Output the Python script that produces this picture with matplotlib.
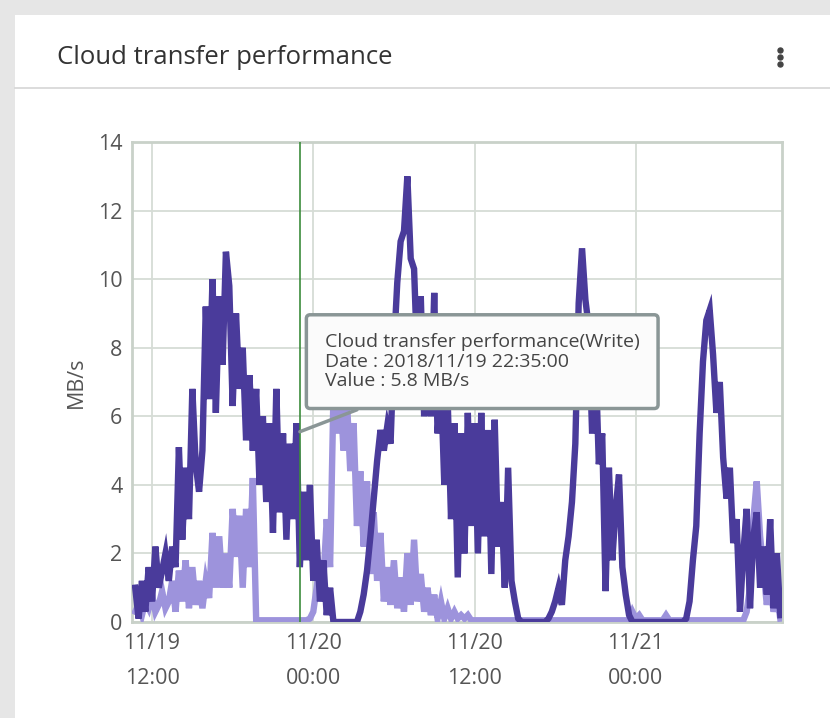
import numpy as np
import matplotlib.pyplot as plt
from matplotlib.lines import Line2D
from matplotlib.patches import Rectangle

# time axis: hours since 2018/11/19 00:00, one sample every 15 minutes
t_start = 10.75
t_step = 0.25

# Cloud transfer performance (Write) - dark series, MB/s
write_vals = [
    1.0, 0.1, 1.2, 0.3,   1.6, 0.6, 2.2, 1.0,   1.5, 2.0, 1.2, 2.2,
    1.6, 5.1, 2.4, 4.5,   3.0, 6.8, 4.6, 3.8,   5.0, 9.2, 6.5, 10.0,
    6.1, 9.5, 7.5, 10.8,  9.8, 6.3, 9.0, 6.8,   8.0, 5.3, 7.2, 5.0,
    6.8, 4.0, 6.0, 3.5,   5.8, 2.6, 6.8, 3.2,   5.5, 2.4, 5.2, 3.0,
    5.8, 1.6, 3.8, 1.8,   4.0, 1.2, 2.4, 0.6,   1.8, 0.2, 1.0, 0.0,
    0.0, 0.0, 0.0, 0.0,   0.0, 0.0, 0.0, 0.3,   0.8, 1.5, 2.5, 3.6,
    4.7, 5.6, 5.0, 5.7,   5.2, 8.0, 9.9, 11.1,  11.4, 13.0, 10.6, 10.3,
    7.5, 9.5, 6.0, 8.5,   6.0, 9.6, 5.5, 7.0,   4.0, 6.5, 3.0, 5.8,
    1.3, 5.5, 2.0, 6.1,   2.8, 5.8, 2.0, 6.1,   2.5, 5.6, 1.4, 5.9,
    2.2, 3.5, 1.0, 4.5,   1.2, 0.6, 0.1, 0.0,   0.0, 0.0, 0.0, 0.0,
    0.0, 0.0, 0.0, 0.1,   0.3, 0.6, 1.0, 0.5,   1.8, 2.5, 3.5, 5.2,
    9.3, 10.9, 9.4, 8.6,  5.5, 7.8, 4.6, 5.5,   0.9, 4.5, 1.8, 3.3,
    4.3, 1.6, 0.8, 0.2,   0.0, 0.0, 0.0, 0.0,   0.0, 0.0, 0.0, 0.0,
    0.0, 0.0, 0.0, 0.0,   0.0, 0.0, 0.0, 0.0,   0.1, 0.6, 1.8, 2.8,
    5.5, 7.6, 8.8, 9.1,   7.8, 6.1, 7.0, 4.8,   3.6, 4.5, 2.3, 3.0,
    0.3, 2.0, 3.3, 0.4,   2.5, 3.2, 1.0, 2.2,   0.8, 3.0, 0.4, 2.0,
    0.2,
]

# second series - light purple, MB/s
read_vals = [
    0.3, 0.5, 0.2, 0.6,   0.4, 0.8, 0.3, 0.5,   0.9, 0.4, 0.6, 1.2,
    0.3, 1.5, 0.6, 1.8,   0.4, 1.6, 0.5, 1.2,   0.4, 1.2, 0.7, 2.6,
    1.0, 2.5, 1.0, 2.0,   1.0, 3.3, 1.9, 3.1,   1.0, 3.3, 1.6, 4.2,
    0.05, 0.05, 0.05, 0.05,  0.05, 0.05, 0.05, 0.05,  0.05, 0.05, 0.05, 0.05,
    0.05, 0.05, 0.05, 0.05,  0.1, 0.3, 1.0, 1.8,  1.2, 3.0, 1.6, 6.6,
    5.5, 6.8, 5.0, 6.5,   4.4, 5.8, 2.8, 4.4,   2.2, 4.1, 1.4, 3.2,
    1.2, 2.6, 0.6, 1.6,   0.5, 1.8, 0.4, 1.3,   0.3, 2.0, 0.5, 2.4,
    0.6, 1.4, 0.3, 1.0,   0.2, 0.8, 0.1, 0.6,   0.1, 0.4, 0.1, 0.3,
    0.1, 0.2, 0.1, 0.2,   0.05, 0.05, 0.05, 0.05,  0.05, 0.05, 0.05, 0.05,
    0.05, 0.05, 0.05, 0.05,  0.05, 0.05, 0.05, 0.05,  0.05, 0.05, 0.05, 0.05,
    0.05, 0.05, 0.05, 0.05,  0.05, 0.05, 0.05, 0.05,  0.05, 0.05, 0.05, 0.05,
    0.05, 0.05, 0.05, 0.05,  0.05, 0.05, 0.05, 0.05,  0.05, 0.05, 0.05, 0.05,
    0.05, 0.05, 0.05, 0.05,  0.3, 0.1, 0.2, 0.05,  0.05, 0.05, 0.05, 0.05,
    0.05, 0.05, 0.2, 0.05,  0.05, 0.05, 0.05, 0.05,  0.05, 0.05, 0.05, 0.05,
    0.05, 0.05, 0.05, 0.05,  0.05, 0.05, 0.05, 0.05,  0.05, 0.05, 0.05, 0.05,
    0.05, 0.05, 0.3, 1.0,   3.0, 4.1, 2.5, 1.5,   0.5, 1.2, 0.3, 0.8,
    0.1,
]

tick_hours = [12, 24, 36, 48]
tick_labels = ['11/19\n12:00', '11/20\n00:00', '11/20\n12:00', '11/21\n00:00']

cursor_t = 23.0      # hover cursor position
hover_value = 5.8
tooltip_lines = ['Cloud transfer performance(Write)',
                 'Date : 2018/11/19 22:35:00',
                 'Value : 5.8 MB/s']

hours = t_start + t_step * np.arange(len(write_vals))

dark = '#4a3b9b'
light = '#9d93dc'
font = ['Open Sans', 'DejaVu Sans']
plt.rcParams['font.family'] = font

W, H = 830, 718
fig = plt.figure(figsize=(W / 100, H / 100), dpi=100)
fig.patch.set_facecolor('#e6e6e6')

# white card
fig.add_artist(Rectangle((15 / W, 0), 1, 1 - 15 / H, transform=fig.transFigure,
                         facecolor='white', edgecolor='none', zorder=0))
fig.add_artist(Line2D([15 / W, 1], [1 - 88 / H] * 2, transform=fig.transFigure,
                      color='#d6d6d6', lw=1.2))
fig.text(57 / W, 1 - 57 / H, 'Cloud transfer performance', fontsize=18.5,
         color='#333333', va='center', ha='left')
fig.add_artist(Line2D([780 / W] * 3, [1 - 50 / H, 1 - 57 / H, 1 - 64 / H],
                      transform=fig.transFigure, ls='', marker='o', ms=3.6,
                      color='#444444'))

ax = fig.add_axes([132 / W, 1 - 622 / H, 650 / W, 480 / H])
ax.set_facecolor('white')

ax.plot(hours, read_vals, color=light, lw=4.6, solid_joinstyle='miter', zorder=3)
ax.plot(hours, write_vals, color=dark, lw=4.6, solid_joinstyle='miter', zorder=4)

ax.axvline(cursor_t, color='#3c8c3c', lw=1.2, zorder=5)

ax.set_xlim(10.51, 58.88)
ax.set_ylim(0, 14)
ax.set_yticks(range(0, 15, 2))
ax.set_xticks(tick_hours)
ax.set_xticklabels(tick_labels, linespacing=1.85)
ax.grid(True, color='#d6dcd6', lw=1.3)
ax.set_axisbelow(True)
for s in ax.spines.values():
    s.set_color('#c9d1c9')
    s.set_linewidth(2)
ax.tick_params(length=0, labelsize=15.5, labelcolor='#555555')
ax.tick_params(axis='y', pad=7)
ax.tick_params(axis='x', pad=8)
ax.set_ylabel('MB/s', fontsize=15.5, color='#555555', labelpad=8)

# hover tooltip
ax.annotate('\n'.join(tooltip_lines), xy=(cursor_t, hover_value - 0.25),
            xytext=(18, 30), textcoords='offset points', fontsize=14,
            color='#444444', ha='left', va='bottom', linespacing=1.1,
            bbox=dict(boxstyle='round,pad=0.95,rounding_size=0.2', fc='#fbfbfb',
                      ec='#8a9696', lw=2.5),
            arrowprops=dict(arrowstyle='-', color='#8a9696', lw=2.5,
                            shrinkA=0, shrinkB=0), zorder=10)

fig.savefig('out.png', dpi=100)
